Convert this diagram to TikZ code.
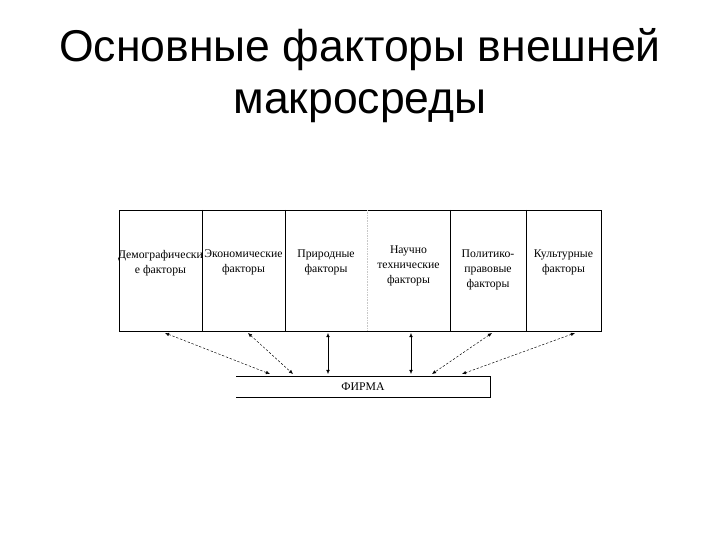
\documentclass[tikz,border=0pt]{standalone}
\usepackage{fontspec}
\setmainfont{Liberation Serif}
\newfontfamily\titlefont{Liberation Sans}
\usetikzlibrary{arrows.meta,positioning,calc}
\definecolor{FrameDark}{RGB}{0,0,0}
\definecolor{DividerGray}{RGB}{200,200,200}
\tikzset{
  cell/.style={minimum height=121*0.03cm,inner sep=0pt,outer sep=0pt},
  celltext/.style={anchor=north,align=center,inner sep=0pt,font=\fontsize{10}{12.5}\selectfont},
  link/.style={FrameDark,thin,{Latex[length=3.5pt,width=3pt]}-{Latex[length=3.5pt,width=3pt]}},
  dashlink/.style={link,dash pattern=on 2pt off 1.5pt}
}
\begin{document}
\begin{tikzpicture}[x=0.03cm,y=-0.03cm]
\useasboundingbox (0,0) rectangle (720,540);
% title
\node[align=center,font=\titlefont\fontsize{38}{44}\selectfont] (title) at (360,75.5) {Основные факторы внешней\\макросреды};
% factor cells
\node[cell,minimum width=83*0.03cm] (c1) at (160.5,270.5) {};
\node[cell,minimum width=83*0.03cm] (c2) at (243.5,270.5) {};
\node[cell,minimum width=82*0.03cm] (c3) at (326,270.5) {};
\node[cell,minimum width=83*0.03cm] (c4) at (408.5,270.5) {};
\node[cell,minimum width=76*0.03cm] (c5) at (488,270.5) {};
\node[cell,minimum width=75*0.03cm] (c6) at (563.5,270.5) {};
\draw[FrameDark] (c1.north west) rectangle (c6.south east);
\draw[FrameDark] (c1.north east) -- (c1.south east);
\draw[FrameDark] (c2.north east) -- (c2.south east);
\draw[DividerGray,densely dotted] (c3.north east) -- (c3.south east);
\draw[FrameDark] (c4.north east) -- (c4.south east);
\draw[FrameDark] (c5.north east) -- (c5.south east);
% cell texts
\node[celltext] (t1) at ($(c1.north)+(0,40)$) {Демографически\\е факторы};
\node[celltext] (t2) at ($(c2.north)+(0,40)$) {Экономические\\факторы};
\node[celltext] (t3) at ($(c3.north)+(0,40)$) {Природные\\факторы};
\node[celltext] (t4) at ($(c4.north)+(0,36)$) {Научно\\технические\\факторы};
\node[celltext] (t5) at ($(c5.north)+(0,40)$) {Политико-\\правовые\\факторы};
\node[celltext] (t6) at ($(c6.north)+(0,40)$) {Культурные\\факторы};
% firm box, open on the left
\node[minimum width=254*0.03cm,minimum height=21*0.03cm,inner sep=0pt,outer sep=0pt,font=\fontsize{10}{12}\selectfont] (firm) at (363,386.5) {ФИРМА};
\draw[FrameDark] (firm.north west) -- (firm.north east) -- (firm.south east) -- (firm.south west);
% links
\draw[dashlink] ($(c1.south)+(4.5,2)$) -- ($(firm.north)+(-93,-2)$);
\draw[dashlink] ($(c2.south)+(4.5,2)$) -- ($(firm.north)+(-70,-2)$);
\draw[link] ($(c3.south)+(2,2)$) -- ($(firm.north)+(-35,-2)$);
\draw[link] ($(c4.south)+(2.5,2)$) -- ($(firm.north)+(48,-2)$);
\draw[dashlink] ($(c5.south)+(4,2)$) -- ($(firm.north)+(69,-2)$);
\draw[dashlink] ($(c6.south)+(11.5,2)$) -- ($(firm.north)+(99,-2)$);
\end{tikzpicture}
\end{document}
